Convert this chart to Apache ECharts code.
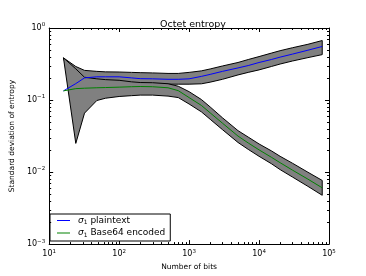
<!DOCTYPE html>
<html><head><meta charset="utf-8">
<script src="https://cdn.jsdelivr.net/npm/echarts@6/dist/echarts.min.js"></script>
<style>html,body{margin:0;padding:0;background:#fff}#c{width:366px;height:276px}</style>
</head><body><div id="c"></div>
<script>
const bits = [16,24,32,48,64,100,150,200,300,500,700,1000,1500,2000,3000,5000,7000,10000,15000,20000,30000,50000,80000];
const plainMean  = [0.134,0.169,0.203,0.21,0.21,0.21,0.203,0.198,0.197,0.194,0.194,0.197,0.213,0.227,0.25,0.279,0.301,0.332,0.365,0.394,0.434,0.492,0.554];
const plainUpper = [0.385,0.292,0.258,0.25,0.246,0.245,0.242,0.24,0.238,0.234,0.234,0.242,0.254,0.27,0.297,0.332,0.365,0.401,0.448,0.484,0.532,0.594,0.67];
const plainLower = [null,0.121,0.166,0.166,0.166,0.166,0.166,0.166,0.166,0.166,0.166,0.166,0.168,0.177,0.194,0.223,0.242,0.262,0.292,0.316,0.348,0.388,0.427];
const b64Mean  = [0.134,0.144,0.146,0.148,0.149,0.151,0.153,0.154,0.153,0.148,0.1349,0.1082,0.0841,0.0664,0.0477,0.0316,0.02535,0.02033,0.01605,0.01349,0.01065,0.00797,0.00604];
const b64Upper = [0.385,0.271,0.207,0.197,0.192,0.188,0.179,0.175,0.174,0.1683,0.1555,0.1307,0.1016,0.0802,0.0567,0.0376,0.0306,0.02457,0.0197,0.01656,0.01328,0.00994,0.00765];
const b64Lower = [null,0.025,0.0658,0.0985,0.106,0.112,0.115,0.117,0.117,0.1134,0.1082,0.0881,0.0685,0.0541,0.0388,0.02576,0.02066,0.01656,0.01307,0.01082,0.00854,0.00633,0.00476];
const seriesNames = ['plaintext','Base64 encoded'];
const xRange = [10, 100000];
const yRange = [0.001, 1];

const FONT = 'DejaVu Sans';
const supFmt = v => {
  const e = Math.round(Math.log10(v));
  return '10{s|' + (e < 0 ? '\u2212' + (-e) : e) + '}';
};
const supRich = { s: { fontSize: 5.5, fontFamily: FONT, color: '#000', padding: [0, 0, 6, 0] } };

function band(upper, lower) {
  return {
    type: 'custom', coordinateSystem: 'cartesian2d', silent: true, clip: true,
    data: [[bits[0], upper[0]]],
    renderItem: function (params, api) {
      const pts = [];
      for (let i = 0; i < bits.length; i++) if (upper[i] != null) pts.push(api.coord([bits[i], upper[i]]));
      for (let i = bits.length - 1; i >= 0; i--) if (lower[i] != null) pts.push(api.coord([bits[i], lower[i]]));
      return { type: 'polygon', shape: { points: pts }, style: { fill: '#808080', stroke: '#000', lineWidth: 1 } };
    }
  };
}

function minorTicks() {
  return {
    type: 'custom', coordinateSystem: 'cartesian2d', silent: true, clip: false, z: 10,
    data: [[xRange[0], yRange[0]]],
    renderItem: function (params, api) {
      const ch = [];
      const st = { stroke: '#000', lineWidth: 1 };
      for (let e = 1; e < 5; e++) for (let k = 2; k < 10; k++) {
        const v = k * Math.pow(10, e);
        const b = api.coord([v, yRange[0]]), t = api.coord([v, yRange[1]]);
        const x = Math.round(b[0]) + 0.5;
        ch.push({ type: 'line', shape: { x1: x, y1: b[1], x2: x, y2: b[1] - 2 }, style: st });
        ch.push({ type: 'line', shape: { x1: x, y1: t[1], x2: x, y2: t[1] + 2 }, style: st });
      }
      for (let e = -3; e < 0; e++) for (let k = 2; k < 10; k++) {
        const v = k * Math.pow(10, e);
        const l = api.coord([xRange[0], v]), r = api.coord([xRange[1], v]);
        const y = Math.round(l[1]) + 0.5;
        ch.push({ type: 'line', shape: { x1: l[0], y1: y, x2: l[0] + 2, y2: y }, style: st });
        ch.push({ type: 'line', shape: { x1: r[0], y1: y, x2: r[0] - 2, y2: y }, style: st });
      }
      return { type: 'group', children: ch };
    }
  };
}

const chart = echarts.init(document.getElementById('c'), null, { renderer: 'canvas' });
const axisCommon = {
  type: 'log', logBase: 10,
  axisLine: { show: true, onZero: false, lineStyle: { color: '#000', width: 1 } },
  axisTick: { show: true, inside: true, length: 4, lineStyle: { color: '#000' } },
  splitLine: { show: false }, minorTick: { show: false }
};
chart.setOption({
  animation: false,
  title: { text: 'Octet entropy', left: 188, top: 15, textAlign: 'center',
    textStyle: { fontFamily: FONT, fontSize: 9.5, fontWeight: 'normal', color: '#000' } },
  grid: { left: 47, right: 37, top: 28, bottom: 29 },
  xAxis: [
    Object.assign({}, axisCommon, { min: xRange[0], max: xRange[1], position: 'bottom',
      name: 'Number of bits', nameLocation: 'middle', nameGap: 17,
      nameTextStyle: { fontFamily: FONT, fontSize: 7.5, color: '#000' },
      axisLabel: { formatter: supFmt, rich: supRich, fontFamily: FONT, fontSize: 8, color: '#000', margin: 4 } }),
    Object.assign({}, axisCommon, { min: xRange[0], max: xRange[1], position: 'top', axisLabel: { show: false } })
  ],
  yAxis: [
    Object.assign({}, axisCommon, { min: yRange[0], max: yRange[1], position: 'left',
      name: 'Standard deviation of entropy', nameLocation: 'middle', nameGap: 24,
      nameTextStyle: { fontFamily: FONT, fontSize: 7.5, color: '#000' },
      axisLabel: { formatter: supFmt, rich: supRich, fontFamily: FONT, fontSize: 8, color: '#000', margin: 4 } }),
    Object.assign({}, axisCommon, { min: yRange[0], max: yRange[1], position: 'right', axisLabel: { show: false } })
  ],
  legend: {
    orient: 'vertical', left: 50, top: 214, padding: [2, 5, 3, 7], itemGap: 3,
    backgroundColor: '#fff', borderColor: '#000', borderWidth: 1, borderRadius: 0,
    itemWidth: 13, itemHeight: 10, icon: 'path://M0,4.5H13V5.5H0Z',
    data: seriesNames,
    formatter: n => '{i|\u03c3}{b|1} ' + n,
    textStyle: { fontFamily: FONT, fontSize: 9, color: '#000', padding: [0, 0, 0, 3],
      rich: { i: { fontFamily: FONT, fontStyle: 'italic', fontSize: 9, color: '#000' },
              b: { fontFamily: FONT, fontSize: 6, color: '#000', padding: [4, 0, 0, 0] } } }
  },
  series: [
    band(plainUpper, plainLower),
    band(b64Upper, b64Lower),
    { name: seriesNames[0], type: 'line', data: bits.map((b, i) => [b, plainMean[i]]), showSymbol: false, symbol: 'none',
      lineStyle: { color: '#0000ff', width: 1 }, itemStyle: { color: '#0000ff' }, z: 5 },
    { name: seriesNames[1], type: 'line', data: bits.map((b, i) => [b, b64Mean[i]]), showSymbol: false, symbol: 'none',
      lineStyle: { color: '#008000', width: 1 }, itemStyle: { color: '#008000' }, z: 5 },
    minorTicks()
  ]
});
</script></body></html>
